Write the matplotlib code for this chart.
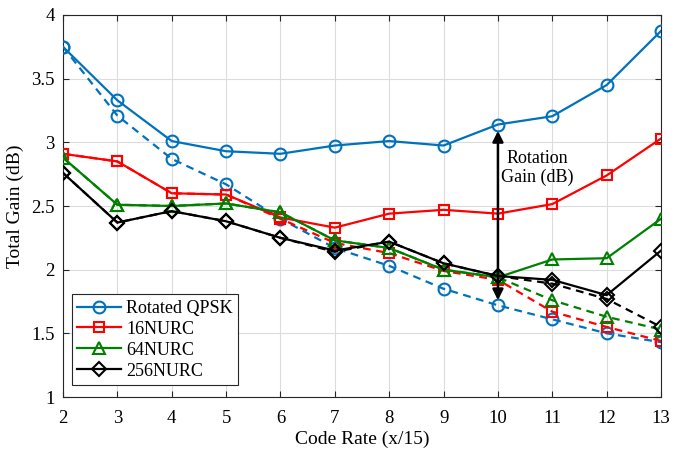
import matplotlib
matplotlib.use("Agg")
import matplotlib.pyplot as plt

code_rate = [2, 3, 4, 5, 6, 7, 8, 9, 10, 11, 12, 13]
qpsk_rot = [3.75, 3.33, 3.01, 2.93, 2.91, 2.975, 3.01, 2.975, 3.14, 3.205, 3.45, 3.875]
qpsk_nr = [3.75, 3.21, 2.87, 2.67, 2.40, 2.17, 2.03, 1.85, 1.72, 1.61, 1.50, 1.43]
nurc16_rot = [2.91, 2.85, 2.60, 2.59, 2.41, 2.33, 2.44, 2.47, 2.44, 2.515, 2.74, 3.03]
nurc16_nr = [2.91, 2.85, 2.60, 2.59, 2.40, 2.21, 2.13, 1.99, 1.92, 1.67, 1.55, 1.44]
nurc64_rot = [2.88, 2.51, 2.50, 2.52, 2.45, 2.23, 2.17, 2.00, 1.94, 2.08, 2.09, 2.40]
nurc64_nr = [2.88, 2.51, 2.50, 2.52, 2.45, 2.23, 2.17, 2.00, 1.94, 1.76, 1.63, 1.53]
nurc256_rot = [2.76, 2.37, 2.46, 2.38, 2.25, 2.15, 2.22, 2.05, 1.95, 1.92, 1.80, 2.15]
nurc256_nr = [2.76, 2.37, 2.46, 2.38, 2.25, 2.14, 2.22, 2.05, 1.95, 1.89, 1.77, 1.55]
labels = ["Rotated QPSK", "16NURC", "64NURC", "256NURC"]
y_ticks = [1, 1.5, 2, 2.5, 3, 3.5, 4]
y_tick_labels = ["1", "1.5", "2", "2.5", "3", "3.5", "4"]
arrow_x = 10
arrow_y = (1.76, 3.09)

plt.rcParams['font.family'] = ['Liberation Serif', 'DejaVu Serif']
plt.rcParams['mathtext.fontset'] = 'stix'

fig = plt.figure(figsize=(6.78, 4.49), dpi=100)
ax = fig.add_axes([0.0929, 0.1158, 0.975 - 0.0929, 0.9666 - 0.1158])

colors = ['#0072BD', '#FF0000', '#008000', '#000000']
markers = ['o', 's', '^', 'D']
msizes = [8.5, 7.5, 9, 7.5]
rot = [qpsk_rot, nurc16_rot, nurc64_rot, nurc256_rot]
nr = [qpsk_nr, nurc16_nr, nurc64_nr, nurc256_nr]

for c, m, ms, yr, yn in zip(colors, markers, msizes, rot, nr):
    ax.plot(code_rate, yn, color=c, ls=(0, (3.5, 2.5)), lw=1.6, marker=m,
            ms=ms, mfc='none', mec=c, mew=1.5, zorder=2)
for c, m, ms, yr, lab in zip(colors, markers, msizes, rot, labels):
    ax.plot(code_rate, yr, color=c, ls='-', lw=1.6, marker=m, ms=ms,
            mfc='none', mec=c, mew=1.5, label=lab, zorder=3)

ax.annotate('', xy=(arrow_x, arrow_y[1]), xytext=(arrow_x, arrow_y[0]),
            arrowprops=dict(arrowstyle='<|-|>', color='black', lw=1.8,
                            mutation_scale=16, shrinkA=0, shrinkB=0), zorder=5)
ax.text(10.73, 2.80, 'Rotation\nGain (dB)', ha='center', va='center',
        multialignment='center', fontsize=13, linespacing=1.1, zorder=6)

ax.set_xlim(2, 13)
ax.set_ylim(1, 4)
ax.set_xticks(code_rate)
ax.set_xticklabels([str(v) for v in code_rate])
ax.set_yticks(y_ticks)
ax.set_yticklabels(y_tick_labels)
ax.tick_params(direction='in', top=True, right=True, labelsize=13.5,
               length=4, width=0.8, color='#262626')
ax.tick_params(axis='x', pad=9)
ax.tick_params(axis='y', pad=6)
ax.grid(True, color='#dcdcdc', lw=0.8)
ax.set_axisbelow(True)
for s in ax.spines.values():
    s.set_color('#262626')
    s.set_linewidth(0.8)
ax.set_xlabel('Code Rate (x/15)', fontsize=14, labelpad=3)
ax.set_ylabel('Total Gain (dB)', fontsize=14, labelpad=5)

leg = ax.legend(loc='lower left', fontsize=13, frameon=True, fancybox=False,
                edgecolor='#262626', framealpha=1, handlelength=2.4,
                borderpad=0.3, labelspacing=0.22, handletextpad=0.3,
                borderaxespad=0, bbox_to_anchor=(0.015, 0.031))
leg.get_frame().set_linewidth(0.8)

fig.savefig('out.png', dpi=100)
